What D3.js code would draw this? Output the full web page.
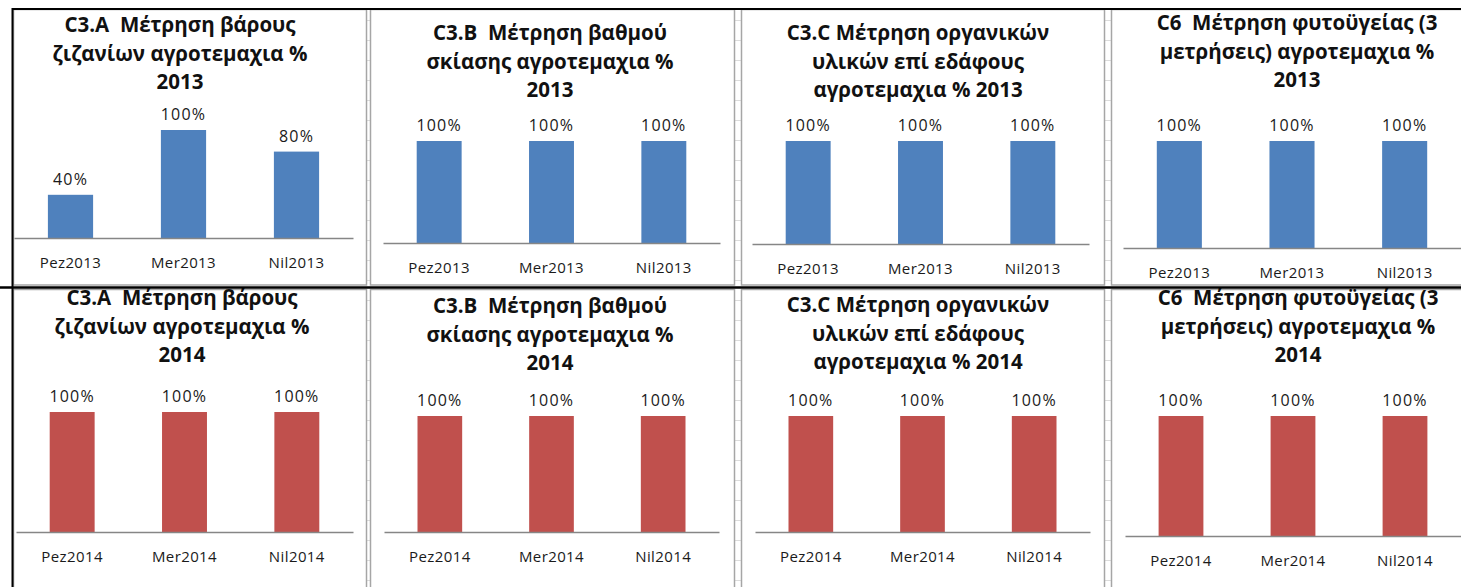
<!DOCTYPE html>
<html>
<head>
<meta charset="utf-8">
<script src="https://cdn.jsdelivr.net/npm/d3@7"></script>
<style>
  body { margin: 0; background: #fff; }
  svg { display: block; }
  text { font-family: "Open Sans", "Noto Sans", sans-serif; white-space: pre; }
</style>
</head>
<body>
<svg id="sheet" width="1461" height="587"></svg>
<script>
// ---- data -------------------------------------------------------------
const categories2013 = ["Pez2013", "Mer2013", "Nil2013"];
const categories2014 = ["Pez2014", "Mer2014", "Nil2014"];

const titles2013 = [
  ["C3.A  Μέτρηση βάρους", "ζιζανίων αγροτεμαχια %", "2013"],
  ["C3.B  Μέτρηση βαθμού", "σκίασης αγροτεμαχια %", "2013"],
  ["C3.C Μέτρηση οργανικών", "υλικών επί εδάφους", "αγροτεμαχια % 2013"],
  ["C6  Μέτρηση φυτοϋγείας (3", "μετρήσεις) αγροτεμαχια %", "2013"]
];
const titles2014 = [
  ["C3.A  Μέτρηση βάρους", "ζιζανίων αγροτεμαχια %", "2014"],
  ["C3.B  Μέτρηση βαθμού", "σκίασης αγροτεμαχια %", "2014"],
  ["C3.C Μέτρηση οργανικών", "υλικών επί εδάφους", "αγροτεμαχια % 2014"],
  ["C6  Μέτρηση φυτοϋγείας (3", "μετρήσεις) αγροτεμαχια %", "2014"]
];

// percentage of plots per measurement
const weedWeight2013  = [40, 100, 80];
const shading2013     = [100, 100, 100];
const organic2013     = [100, 100, 100];
const plantHealth2013 = [100, 100, 100];
const weedWeight2014  = [100, 100, 100];
const shading2014     = [100, 100, 100];
const organic2014     = [100, 100, 100];
const plantHealth2014 = [100, 100, 100];

// ---- layout of the eight embedded charts -----------------------------
const layout = [
  { fx0: 13,   fx1: 366,  fy0: 9,   fy1: 284.5, px0: 14,   px1: 353,  base: 238, top: 130, tx: 180,  ty: 25 },
  { fx0: 370,  fx1: 734,  fy0: 9,   fy1: 284.5, px0: 383,  px1: 720,  base: 243, top: 141, tx: 550,  ty: 33 },
  { fx0: 741,  fx1: 1104, fy0: 9,   fy1: 284.5, px0: 752,  px1: 1089, base: 244, top: 141, tx: 918,  ty: 33 },
  { fx0: 1111, fx1: 1462, fy0: 9,   fy1: 284.5, px0: 1123, px1: 1461, base: 248, top: 141, tx: 1297, ty: 23 },
  { fx0: 13,   fx1: 366,  fy0: 289, fy1: 590,   px0: 16,   px1: 353,  base: 532, top: 412, tx: 182,  ty: 298 },
  { fx0: 370,  fx1: 734,  fy0: 289, fy1: 590,   px0: 384,  px1: 719,  base: 532, top: 416, tx: 550,  ty: 306 },
  { fx0: 741,  fx1: 1104, fy0: 289, fy1: 590,   px0: 755,  px1: 1090, base: 532, top: 416, tx: 918,  ty: 305 },
  { fx0: 1111, fx1: 1462, fy0: 289, fy1: 590,   px0: 1125, px1: 1461, base: 536, top: 416, tx: 1298, ty: 298 }
];

const charts = [
  { cats: categories2013, title: titles2013[0], values: weedWeight2013,  color: "#4F81BD" },
  { cats: categories2013, title: titles2013[1], values: shading2013,     color: "#4F81BD" },
  { cats: categories2013, title: titles2013[2], values: organic2013,     color: "#4F81BD" },
  { cats: categories2013, title: titles2013[3], values: plantHealth2013, color: "#4F81BD" },
  { cats: categories2014, title: titles2014[0], values: weedWeight2014,  color: "#C0504D" },
  { cats: categories2014, title: titles2014[1], values: shading2014,     color: "#C0504D" },
  { cats: categories2014, title: titles2014[2], values: organic2014,     color: "#C0504D" },
  { cats: categories2014, title: titles2014[3], values: plantHealth2014, color: "#C0504D" }
];

const svg = d3.select("#sheet");

// worksheet cell grid showing in the gaps between charts
const gaps = [[366, 370], [734, 741], [1104, 1111]];
const grid = svg.append("g").attr("stroke", "#dcdcdc").attr("stroke-width", 1);
gaps.forEach(([a, b]) => {
  d3.range(20, 587, 20).forEach(y => {
    grid.append("line").attr("x1", a).attr("x2", b).attr("y1", y + 0.5).attr("y2", y + 0.5);
  });
});

charts.forEach((c, i) => {
  const L = layout[i];
  const g = svg.append("g");

  // chart frame
  g.append("rect")
    .attr("x", L.fx0 + 0.5).attr("y", L.fy0 + 0.5)
    .attr("width", L.fx1 - L.fx0).attr("height", L.fy1 - L.fy0)
    .attr("fill", "#fff").attr("stroke", "#a6a6a6").attr("stroke-width", 1.5);

  const x = d3.scaleBand().domain(c.cats).range([L.px0, L.px1])
    .paddingInner(0.6).paddingOuter(0.3);
  const y = d3.scaleLinear().domain([0, 100]).range([L.base, L.top]);

  // bars
  g.selectAll("rect.bar").data(c.values).join("rect")
    .attr("class", "bar")
    .attr("x", (d, j) => x(c.cats[j]))
    .attr("width", x.bandwidth())
    .attr("y", d => y(d))
    .attr("height", d => y(0) - y(d))
    .attr("fill", c.color);

  // data labels
  g.selectAll("text.val").data(c.values).join("text")
    .attr("class", "val")
    .attr("x", (d, j) => x(c.cats[j]) + x.bandwidth() / 2)
    .attr("y", d => y(d) - 10)
    .attr("text-anchor", "middle")
    .attr("font-size", 16)
    .attr("letter-spacing", 1.2)
    .attr("fill", "#1a1a1a")
    .text(d => d + "%");

  // category axis
  const axis = g.append("g")
    .attr("transform", `translate(0,${L.base})`)
    .call(d3.axisBottom(x).tickSize(0).tickSizeOuter(0).tickPadding(19));
  axis.select(".domain").attr("stroke", "#868686").attr("stroke-width", 1.6);
  axis.selectAll("text")
    .attr("font-size", 15)
    .attr("letter-spacing", 0.4)
    .attr("fill", "#1a1a1a")
    .style("font-family", "'Open Sans','Noto Sans',sans-serif");

  // title
  const t = g.append("text")
    .attr("text-anchor", "middle")
    .attr("font-size", 20.5)
    .attr("font-weight", "bold")
    .attr("fill", "#111");
  c.title.forEach((line, k) => {
    t.append("tspan").attr("x", L.tx).attr("y", L.ty + 7 + k * 28.7).text(line);
  });
});

// black sheet borders
const borders = svg.append("g").attr("stroke", "#000");
borders.append("line").attr("x1", 12).attr("x2", 1461).attr("y1", 9).attr("y2", 9).attr("stroke-width", 2);
borders.append("line").attr("x1", 0).attr("x2", 1461).attr("y1", 287.5).attr("y2", 287.5).attr("stroke-width", 2.5);
borders.append("line").attr("x1", 12.5).attr("x2", 12.5).attr("y1", 8).attr("y2", 587).attr("stroke-width", 2);
</script>
</body>
</html>
